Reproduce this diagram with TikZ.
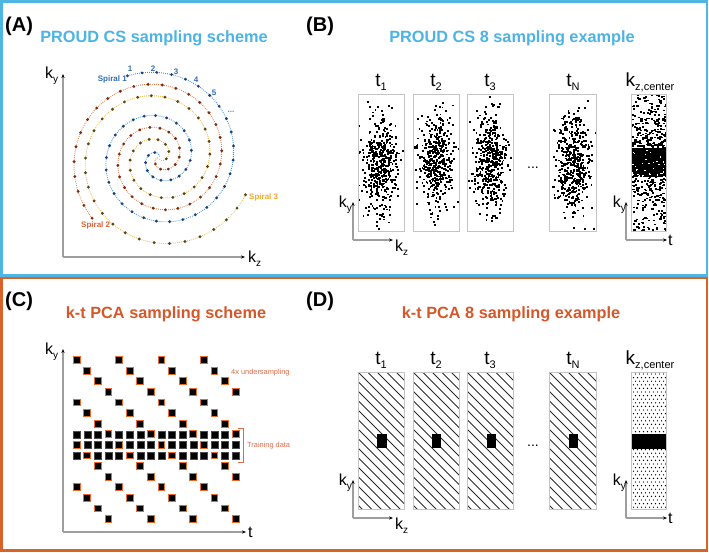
\documentclass[tikz,border=0pt]{standalone}
\usepackage{fontspec}
\setmainfont{Liberation Sans}
\usetikzlibrary{arrows.meta}
\definecolor{frameblue}{HTML}{4FB5E2}
\definecolor{frameorange}{HTML}{D9622B}
\definecolor{titleblue}{HTML}{4CB3E4}
\definecolor{titleorange}{HTML}{D4582A}
\definecolor{sbline}{HTML}{3F8ED6}
\definecolor{sbdot}{HTML}{1C3F7C}
\definecolor{soline}{HTML}{E27A45}
\definecolor{sodot}{HTML}{7A2A10}
\definecolor{syline}{HTML}{F3B542}
\definecolor{sydot}{HTML}{5C4510}
\definecolor{sblabel}{HTML}{2F6DB8}
\definecolor{solabel}{HTML}{DA6238}
\definecolor{sylabel}{HTML}{F0A82E}
\definecolor{sqorange}{HTML}{EA6A2E}
\definecolor{annot}{HTML}{DE6A48}
\definecolor{boxgray}{HTML}{C4C4C4}
\definecolor{axisgray}{HTML}{9E9E9E}
\definecolor{hatchcol}{HTML}{2A2A2A}
\newcommand\tlab[1]{t\raisebox{-4.5pt}{\fontsize{11}{11}\selectfont #1}}
\newcommand\klab[1]{k\raisebox{-4pt}{\fontsize{10}{10}\selectfont #1}}
\newcommand\scatterdots[2]{%
  \foreach \n in {1,...,440}{%
    \pgfmathsetmacro\px{#1+8.5*(rand+rand+rand)}%
    \pgfmathsetmacro\py{#2+24*(rand+rand+rand)}%
    \fill (\px-0.9,\py-0.9) rectangle ++(1.9,1.9);
  }}
\newcommand\hatchbox[4]{%
  \begin{scope}
    \clip (#1,#2) rectangle (#3,#4);
    \foreach \i in {-16,...,6}{\draw[hatchcol, line width=0.9pt] ({#1+\i*9.5},#2) -- ++(170,170);}
  \end{scope}}
\tikzset{
  panellabel/.style={font=\bfseries\fontsize{20}{20}\selectfont, anchor=base west, inner sep=0},
  paneltitle/.style={font=\bfseries\fontsize{16.3}{18}\selectfont, anchor=base, inner sep=0},
  axisarrow/.style={draw=axisgray, line width=1.1pt, -{Stealth[black,length=4pt,width=3.2pt]}},
  axislabel/.style={font=\fontsize{16}{16}\selectfont, inner sep=0},
  tlabel/.style={font=\fontsize{19}{19}\selectfont, anchor=base, inner sep=0},
  samplebox/.style={draw=boxgray, line width=0.9pt},
  spirallabel/.style={font=\bfseries\fontsize{8}{8}\selectfont, inner sep=0},
  annotlabel/.style={font=\fontsize{7.4}{8}\selectfont, text=annot, inner sep=0, anchor=base west},
  sampled/.style={fill=black, draw=sqorange, line width=0.9pt},
  training/.style={fill=black, draw=black!70, line width=0.4pt},
}
\begin{document}
\begin{tikzpicture}[x=1pt,y=-1pt]
\useasboundingbox (0,0) rectangle (709,552);
\pgfmathsetseed{4711}
% frames
\draw[frameblue, line width=2.2pt] (1.5,1.5) rectangle (707.3,275.5);
\draw[frameorange, line width=2.2pt] (1.5,278) rectangle (707.3,550.5);
% panel labels and titles
\node[panellabel] (labA) at (5,31) {(A)};
\node[panellabel] (labB) at (306,31) {(B)};
\node[panellabel] (labC) at (5,306) {(C)};
\node[panellabel] (labD) at (306,306) {(D)};
\node[paneltitle, text=titleblue] (titA) at (154,42) {PROUD CS sampling scheme};
\node[paneltitle, text=titleblue] (titB) at (512,42) {PROUD CS 8 sampling example};
\node[paneltitle, text=titleorange] (titC) at (166,318) {k-t PCA sampling scheme};
\node[paneltitle, text=titleorange] (titD) at (511,318) {k-t PCA 8 sampling example};

% ---------------- Panel A: spirals
\coordinate (oA) at (63,257);
\coordinate (yA) at (63,74);
\coordinate (xA) at (245,257);
\draw[axisarrow] (oA) -- (yA);
\draw[axisarrow] (oA) -- (xA);
\node[axislabel, anchor=base west] (kyA) at (45,78) {\klab{y}};
\node[axislabel, anchor=base west] (kzA) at (248,262) {\klab{z}};
\foreach \a/\R/\lc/\dc in {111/88/sbline/sbdot, 222/90/soline/sodot, 337/94/syline/sydot}{
  \draw[draw=\lc, line width=0.9pt, dash pattern=on 0.8pt off 1.2pt]
    plot[domain=0:0.985, samples=160, smooth] ({159+\R*(1-\x)^1.1*cos(\a-780*\x)},{158-\R*(1-\x)^1.1*sin(\a-780*\x)});
  \foreach \i in {0,...,47}{
    \pgfmathsetmacro\s{1-(1-\i/48)^0.6}
    \fill[fill=\dc] ({159+\R*(1-\s)^1.1*cos(\a-780*\s)},{158-\R*(1-\s)^1.1*sin(\a-780*\s)}) circle (1.6pt);
  }
}
\node[spirallabel, text=sblabel, anchor=base east] (sp1) at (127,81) {Spiral 1};
\node[spirallabel, text=solabel, anchor=base west] (sp2) at (81,227) {Spiral 2};
\node[spirallabel, text=sylabel, anchor=base west] (sp3) at (249,199) {Spiral 3};
\node[spirallabel, text=sblabel, anchor=base] (n1) at (130,71) {1};
\node[spirallabel, text=sblabel, anchor=base] (n2) at (153,71) {2};
\node[spirallabel, text=sblabel, anchor=base] (n3) at (176,74) {3};
\node[spirallabel, text=sblabel, anchor=base] (n4) at (196,82) {4};
\node[spirallabel, text=sblabel, anchor=base] (n5) at (214,95) {5};
\node[spirallabel, text=sbline, anchor=base] (ndots) at (231,112) {...};

% ---------------- Panel B
\begin{scope}\clip (358,94) rectangle (404,231); \scatterdots{381}{166} \end{scope}
\begin{scope}\clip (413,94) rectangle (459,231); \scatterdots{436}{161} \end{scope}
\begin{scope}\clip (467,94) rectangle (513,231); \scatterdots{490}{163} \end{scope}
\begin{scope}\clip (549,94) rectangle (596,231); \scatterdots{572.5}{164} \end{scope}
\begin{scope}
  \clip (631,94) rectangle (666,231);
  \fill (631,148) rectangle (666,177);
  \foreach \n in {1,...,60}{\pgfmathsetmacro\px{648.5+17.5*rand}\pgfmathsetmacro\py{162+14*rand}\fill[white] (\px,\py) rectangle ++(1.6,1.4);}
  \foreach \n in {1,...,300}{\pgfmathsetmacro\px{648.5+17.5*rand}\pgfmathsetmacro\py{162.5+68.5*rand}\fill (\px,\py) rectangle ++(2.2,1.6);}
  \foreach \n in {1,...,300}{\pgfmathsetmacro\px{648.5+17.5*rand}\pgfmathsetmacro\py{156+25*(rand+rand)}\fill (\px,\py) rectangle ++(2.2,1.6);}
\end{scope}
\node[samplebox, anchor=north west, minimum width=46pt, minimum height=137pt, inner sep=0] (bB1) at (358,94) {};
\node[samplebox, anchor=north west, minimum width=46pt, minimum height=137pt, inner sep=0] (bB2) at (413,94) {};
\node[samplebox, anchor=north west, minimum width=46pt, minimum height=137pt, inner sep=0] (bB3) at (467,94) {};
\node[samplebox, anchor=north west, minimum width=47pt, minimum height=137pt, inner sep=0] (bBN) at (549,94) {};
\node[samplebox, anchor=north west, minimum width=35pt, minimum height=137pt, inner sep=0] (bBK) at (631,94) {};
\node[tlabel] (tB1) at (381,86) {\tlab{1}};
\node[tlabel] (tB2) at (436,86) {\tlab{2}};
\node[tlabel] (tB3) at (490,86) {\tlab{3}};
\node[tlabel] (tBN) at (573,86) {\tlab{N}};
\node[tlabel] (tBK) at (650,86) {k\raisebox{-4.5pt}{\fontsize{11}{11}\selectfont z,center}};
\node[font=\fontsize{14}{14}\selectfont, anchor=base, inner sep=0] (ellB) at (533,168) {...};
\coordinate (oB1) at (353,240);
\coordinate (yB1) at (353,202);
\coordinate (xB1) at (393,240);
\draw[axisarrow] (oB1) -- (yB1);
\draw[axisarrow] (oB1) -- (xB1);
\node[axislabel, anchor=base east] (kyB1) at (352,207) {\klab{y}};
\node[axislabel, anchor=base west] (kzB1) at (395,251) {\klab{z}};
\coordinate (oB2) at (626,240);
\coordinate (yB2) at (626,202);
\coordinate (xB2) at (667,240);
\draw[axisarrow] (oB2) -- (yB2);
\draw[axisarrow] (oB2) -- (xB2);
\node[axislabel, anchor=base east] (kyB2) at (626,207) {\klab{y}};
\node[axislabel, anchor=base west] (tB) at (668,245) {t};

% ---------------- Panel C
\coordinate (oC) at (63,532);
\coordinate (yC) at (63,349);
\coordinate (xC) at (246,532);
\draw[axisarrow] (oC) -- (yC);
\draw[axisarrow] (oC) -- (xC);
\node[axislabel, anchor=base west] (kyC) at (45,354) {\klab{y}};
\node[axislabel, anchor=base west] (tC) at (248,537) {t};
\foreach \r in {0,...,15}{
  \foreach \c in {0,...,15}{
    \pgfmathtruncatemacro\m{mod(\c-\r+32,4)}
    \ifnum\m=0
      \draw[sampled] ({76.7+10.6*\c-3.4},{360+10.6*\r-3.4}) rectangle ++(6.8,6.8);
    \else
      \ifnum\r>6 \ifnum\r<10
        \draw[training] ({76.7+10.6*\c-3.5},{360+10.6*\r-3.5}) rectangle ++(7,7);
      \fi\fi
    \fi
  }
}
\coordinate (brT) at (238,428);
\coordinate (brB) at (238,462);
\draw[annot, line width=0.8pt] (brT) -- ++(5,0) |- (brB);
\node[annotlabel] (under) at (231,374) {4x undersampling};
\node[annotlabel] (train) at (247,447) {Training data};

% ---------------- Panel D
\hatchbox{358}{372}{404}{509}
\hatchbox{413}{372}{459}{509}
\hatchbox{467}{372}{513}{509}
\hatchbox{549}{372}{596}{509}
\fill (377,434) rectangle (387,448);
\fill (432,434) rectangle (441,448);
\fill (487,434) rectangle (496,448);
\fill (569,434) rectangle (578,448);
\begin{scope}
  \clip (631,372) rectangle (666,509);
  \foreach \r in {0,...,38}{\foreach \c in {0,...,9}{\fill ({631.5+4*\c+2*mod(\r,2)},{374+3.6*\r}) circle (0.7pt);}}
  \fill (631,434) rectangle (666,449);
\end{scope}
\node[samplebox, anchor=north west, minimum width=46pt, minimum height=137pt, inner sep=0] (bD1) at (358,372) {};
\node[samplebox, anchor=north west, minimum width=46pt, minimum height=137pt, inner sep=0] (bD2) at (413,372) {};
\node[samplebox, anchor=north west, minimum width=46pt, minimum height=137pt, inner sep=0] (bD3) at (467,372) {};
\node[samplebox, anchor=north west, minimum width=47pt, minimum height=137pt, inner sep=0] (bDN) at (549,372) {};
\node[samplebox, anchor=north west, minimum width=35pt, minimum height=137pt, inner sep=0] (bDK) at (631,372) {};
\node[tlabel] (tD1) at (381,364) {\tlab{1}};
\node[tlabel] (tD2) at (436,364) {\tlab{2}};
\node[tlabel] (tD3) at (490,364) {\tlab{3}};
\node[tlabel] (tDN) at (573,364) {\tlab{N}};
\node[tlabel] (tDK) at (650,364) {k\raisebox{-4.5pt}{\fontsize{11}{11}\selectfont z,center}};
\node[font=\fontsize{14}{14}\selectfont, anchor=base, inner sep=0] (ellD) at (533,446) {...};
\coordinate (oD1) at (353,518);
\coordinate (yD1) at (353,480);
\coordinate (xD1) at (393,518);
\draw[axisarrow] (oD1) -- (yD1);
\draw[axisarrow] (oD1) -- (xD1);
\node[axislabel, anchor=base east] (kyD1) at (352,485) {\klab{y}};
\node[axislabel, anchor=base west] (kzD1) at (395,529) {\klab{z}};
\coordinate (oD2) at (626,518);
\coordinate (yD2) at (626,480);
\coordinate (xD2) at (667,518);
\draw[axisarrow] (oD2) -- (yD2);
\draw[axisarrow] (oD2) -- (xD2);
\node[axislabel, anchor=base east] (kyD2) at (626,485) {\klab{y}};
\node[axislabel, anchor=base west] (tD) at (668,523) {t};
\end{tikzpicture}
\end{document}
